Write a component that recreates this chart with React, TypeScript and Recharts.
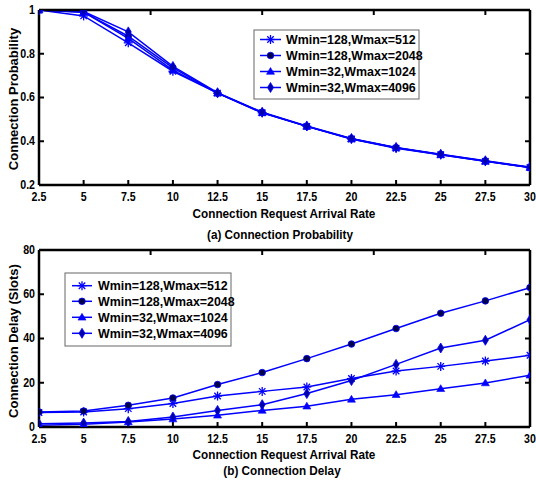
import React from 'react';
import { LineChart, Line, XAxis, YAxis } from 'recharts';

const xValues = [2.5, 5, 7.5, 10, 12.5, 15, 17.5, 20, 22.5, 25, 27.5, 30];
const xTicks = [2.5, 5, 7.5, 10, 12.5, 15, 17.5, 20, 22.5, 25, 27.5, 30];
const probYTicks = [0.2, 0.4, 0.6, 0.8, 1];
const delayYTicks = [0, 20, 40, 60, 80];
const seriesNames = ['Wmin=128,Wmax=512', 'Wmin=128,Wmax=2048', 'Wmin=32,Wmax=1024', 'Wmin=32,Wmax=4096'];

// (a) Connection Probability
const probStar = [1.0, 0.973, 0.85, 0.72, 0.62, 0.53, 0.468, 0.41, 0.368, 0.338, 0.308, 0.28];
const probCircle = [1.0, 0.99, 0.88, 0.735, 0.62, 0.532, 0.468, 0.412, 0.37, 0.34, 0.31, 0.28];
const probTriangle = [1.0, 0.99, 0.87, 0.725, 0.62, 0.53, 0.468, 0.41, 0.37, 0.338, 0.308, 0.28];
const probDiamond = [1.0, 0.993, 0.9, 0.742, 0.622, 0.533, 0.47, 0.413, 0.372, 0.341, 0.311, 0.282];

// (b) Connection Delay
const delayStar = [6.5, 6.8, 8.3, 10.6, 14, 16.1, 18.1, 21.9, 25.3, 27.4, 29.8, 32.4];
const delayCircle = [6.8, 7.2, 9.8, 13.1, 19.2, 24.6, 30.9, 37.5, 44.5, 51.4, 57, 63];
const delayTriangle = [0.8, 1.2, 2.3, 3.6, 5.3, 7.5, 9.4, 12.5, 14.6, 17.3, 19.9, 23.4];
const delayDiamond = [1.5, 1.8, 2.5, 4.5, 7.5, 10.1, 15.1, 21, 28.3, 35.7, 39.2, 48.5];

const probData = xValues.map((x, i) => ({ x, s0: probStar[i], s1: probCircle[i], s2: probTriangle[i], s3: probDiamond[i] }));
const delayData = xValues.map((x, i) => ({ x, s0: delayStar[i], s1: delayCircle[i], s2: delayTriangle[i], s3: delayDiamond[i] }));

const BLUE = '#0000ff';
const DARK = '#00004a';
const FONT = "'Liberation Sans', Arial, sans-serif";
const SQUEEZE = 0.85;

function StarShape({ cx, cy }: { cx: number; cy: number }) {
  const r = 4.5;
  const d = r * 0.72;
  return (
    <g stroke={BLUE} strokeWidth={1.3}>
      <line x1={cx} y1={cy - r} x2={cx} y2={cy + r} />
      <line x1={cx - r} y1={cy} x2={cx + r} y2={cy} />
      <line x1={cx - d} y1={cy - d} x2={cx + d} y2={cy + d} />
      <line x1={cx - d} y1={cy + d} x2={cx + d} y2={cy - d} />
    </g>
  );
}
function CircleShape({ cx, cy }: { cx: number; cy: number }) {
  return <circle cx={cx} cy={cy} r={3.3} fill={DARK} stroke={BLUE} strokeWidth={0.8} />;
}
function TriangleShape({ cx, cy }: { cx: number; cy: number }) {
  const r = 4;
  return <polygon points={`${cx},${cy - r} ${cx + r},${cy + r * 0.7} ${cx - r},${cy + r * 0.7}`} fill={BLUE} stroke={BLUE} strokeWidth={0.6} />;
}
function DiamondShape({ cx, cy }: { cx: number; cy: number }) {
  return <polygon points={`${cx},${cy - 5} ${cx + 3},${cy} ${cx},${cy + 5} ${cx - 3},${cy}`} fill="#0000aa" stroke={BLUE} strokeWidth={0.8} />;
}
const shapes = [StarShape, CircleShape, TriangleShape, DiamondShape];

const makeDot = (idx: number) => (props: any) => {
  const { cx, cy, index } = props;
  if (cx == null || cy == null) return <g key={`d${idx}-${index}`} />;
  const S = shapes[idx];
  return <g key={`d${idx}-${index}`}><S cx={cx} cy={cy} /></g>;
};

const XTick = (props: any) => {
  const { x, y, payload } = props;
  return (
    <text transform={`translate(${x},${y}) scale(${SQUEEZE},1)`} x={0} y={0} dy="0.71em" textAnchor="middle"
      fontSize={12.5} fontWeight="bold" fontFamily={FONT} fill="#000">{String(payload.value)}</text>
  );
};
const YTick = (props: any) => {
  const { x, y, payload } = props;
  return (
    <text transform={`translate(${x},${y - 1}) scale(${SQUEEZE},1)`} x={0} y={0} dominantBaseline="central" textAnchor="end"
      fontSize={12.5} fontWeight="bold" fontFamily={FONT} fill="#000">{String(payload.value)}</text>
  );
};

const axisLineStyle = { stroke: '#000', strokeWidth: 2.5 };
const tickLineStyle = { stroke: '#000', strokeWidth: 2 };
const emptyTick = () => <g />;

function Panel({ data, yTicks, yDomain, height, bottomAxisHeight }: any) {
  return (
    <LineChart width={536} height={height} data={data} margin={{ top: 9, right: 5, left: 0, bottom: 0 }}>
      <XAxis xAxisId="b" dataKey="x" type="number" domain={[2.5, 30]} ticks={xTicks} interval={0}
        height={bottomAxisHeight} tick={XTick} tickSize={-5} tickMargin={12}
        axisLine={axisLineStyle} tickLine={tickLineStyle} allowDataOverflow />
      <XAxis xAxisId="t" orientation="top" type="number" domain={[2.5, 30]} ticks={xTicks} interval={0}
        height={1} tick={emptyTick} tickSize={-5} axisLine={axisLineStyle} tickLine={tickLineStyle} allowDataOverflow />
      <YAxis yAxisId="l" type="number" domain={yDomain} ticks={yTicks} interval={0} width={39}
        tick={YTick} tickSize={-5} tickMargin={9} axisLine={axisLineStyle} tickLine={tickLineStyle}
        allowDataOverflow />
      <YAxis yAxisId="r" orientation="right" type="number" domain={yDomain} ticks={yTicks} interval={0} width={1}
        tick={emptyTick} tickSize={-5} axisLine={axisLineStyle} tickLine={tickLineStyle} allowDataOverflow />
      {[0, 1, 2, 3].map((i) => (
        <Line key={i} xAxisId="b" yAxisId="l" type="linear" dataKey={`s${i}`} name={seriesNames[i]}
          stroke={BLUE} strokeWidth={1.5} dot={makeDot(i)} isAnimationActive={false} />
      ))}
    </LineChart>
  );
}

function LegendBox({ x, y, w, h, lineX1, lineX2, textX, rowY }: any) {
  return (
    <g>
      <rect x={x} y={y} width={w} height={h} fill="#fff" stroke="#666" strokeWidth={1} />
      {seriesNames.map((name, i) => {
        const S = shapes[i];
        const ry = rowY[i];
        const mx = (lineX1 + lineX2) / 2;
        return (
          <g key={name}>
            <line x1={lineX1} y1={ry} x2={lineX2} y2={ry} stroke={BLUE} strokeWidth={1.5} />
            <S cx={mx} cy={ry} />
            <text transform={`translate(${textX},${ry}) scale(0.92,1)`} x={0} y={0} dominantBaseline="central"
              fontSize={13.5} fontWeight="bold" fontFamily={FONT} fill="#000">{name}</text>
          </g>
        );
      })}
    </g>
  );
}

function HLabel({ x, y, children }: any) {
  return (
    <text transform={`translate(${x},${y}) scale(0.87,1)`} x={0} y={0} textAnchor="middle" dominantBaseline="central"
      fontSize={13.5} fontWeight="bold" fontFamily={FONT} fill="#000">{children}</text>
  );
}
function VLabel({ x, y, children }: any) {
  return (
    <text transform={`translate(${x},${y}) rotate(-90)`} x={0} y={0} textAnchor="middle" dominantBaseline="central"
      fontSize={13} fontWeight="bold" fontFamily={FONT} fill="#000">{children}</text>
  );
}

export default function App() {
  return (
    <div style={{ position: 'absolute', left: 0, top: 0, width: 536, height: 482, background: '#fff', overflow: 'hidden' }}>
      <div style={{ position: 'absolute', left: 0, top: 0 }}>
        <Panel data={probData} yTicks={probYTicks} yDomain={[0.2, 1]} height={235} bottomAxisHeight={50} />
      </div>
      <div style={{ position: 'absolute', left: 0, top: 240 }}>
        <Panel data={delayData} yTicks={delayYTicks} yDomain={[0, 80]} height={242} bottomAxisHeight={55} />
      </div>
      <svg width={536} height={482} style={{ position: 'absolute', left: 0, top: 0, pointerEvents: 'none' }}>
        <LegendBox x={254} y={30} w={165} h={69} lineX1={260} lineX2={281} textX={286} rowY={[39.5, 55.5, 71.5, 87.5]} />
        <LegendBox x={65} y={273} w={166} h={73} lineX1={72} lineX2={92} textX={98} rowY={[285.7, 301.3, 317.3, 333.3]} />
        <HLabel x={284} y={214}>Connection Request Arrival Rate</HLabel>
        <HLabel x={280} y={235}>(a) Connection Probability</HLabel>
        <HLabel x={284} y={454.5}>Connection Request Arrival Rate</HLabel>
        <HLabel x={282} y={471}>(b) Connection Delay</HLabel>
        <VLabel x={13} y={99}>Connection Probability</VLabel>
        <VLabel x={13} y={341}>Connection Delay (Slots)</VLabel>
      </svg>
    </div>
  );
}
